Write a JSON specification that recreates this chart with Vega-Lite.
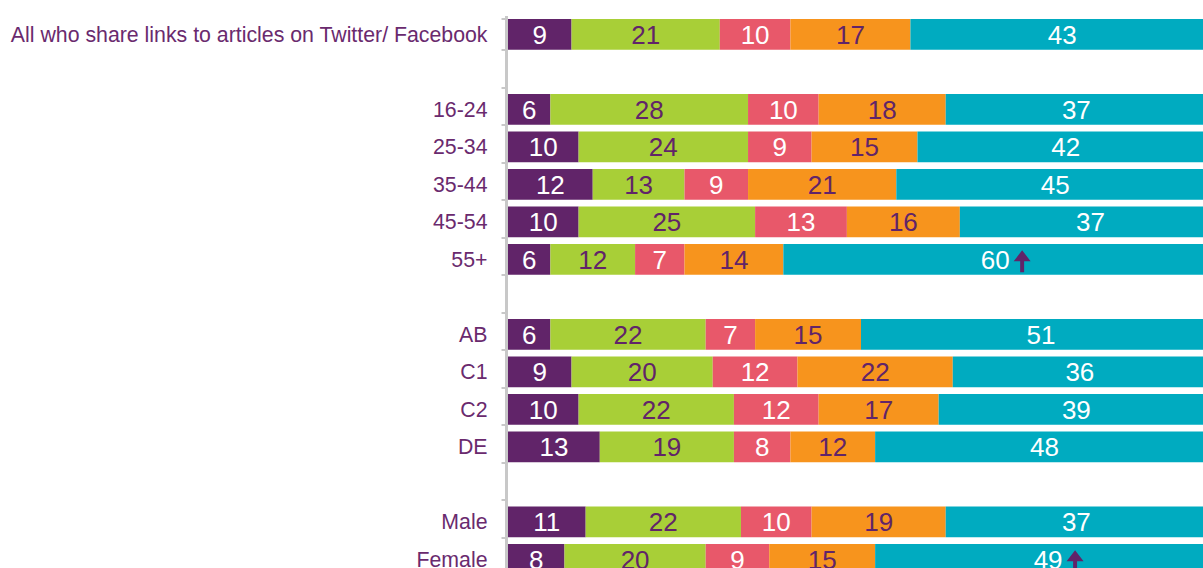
{
  "$schema": "https://vega.github.io/schema/vega-lite/v6.json",
  "width": 706,
  "height": 562.5,
  "autosize": {"type": "none"},
  "padding": {"left": 508, "top": 15.5, "right": 0, "bottom": 0},
  "config": {"view": {"stroke": null}, "font": "Liberation Sans"},
  "data": {
    "values": [
      {"group": "All who share links to articles on Twitter/ Facebook", "s1": 9, "s2": 21, "s3": 10, "s4": 17, "s5": 43, "up": false},
      {"group": "16-24", "s1": 6, "s2": 28, "s3": 10, "s4": 18, "s5": 37, "up": false},
      {"group": "25-34", "s1": 10, "s2": 24, "s3": 9, "s4": 15, "s5": 42, "up": false},
      {"group": "35-44", "s1": 12, "s2": 13, "s3": 9, "s4": 21, "s5": 45, "up": false},
      {"group": "45-54", "s1": 10, "s2": 25, "s3": 13, "s4": 16, "s5": 37, "up": false},
      {"group": "55+", "s1": 6, "s2": 12, "s3": 7, "s4": 14, "s5": 60, "up": true},
      {"group": "AB", "s1": 6, "s2": 22, "s3": 7, "s4": 15, "s5": 51, "up": false},
      {"group": "C1", "s1": 9, "s2": 20, "s3": 12, "s4": 22, "s5": 36, "up": false},
      {"group": "C2", "s1": 10, "s2": 22, "s3": 12, "s4": 17, "s5": 39, "up": false},
      {"group": "DE", "s1": 13, "s2": 19, "s3": 8, "s4": 12, "s5": 48, "up": false},
      {"group": "Male", "s1": 11, "s2": 22, "s3": 10, "s4": 19, "s5": 37, "up": false},
      {"group": "Female", "s1": 8, "s2": 20, "s3": 9, "s4": 15, "s5": 49, "up": true}
    ]
  },
  "transform": [
    {"fold": ["s1", "s2", "s3", "s4", "s5"], "as": ["seg", "value"]},
    {"stack": "value", "groupby": ["group"], "sort": [{"field": "seg", "order": "ascending"}], "as": ["v0", "v1"]},
    {"calculate": "(datum.v0 + datum.v1) / 2", "as": "mid"}
  ],
  "encoding": {
    "y": {
      "field": "group",
      "type": "nominal",
      "scale": {
        "domain": ["All who share links to articles on Twitter/ Facebook", " ", "16-24", "25-34", "35-44", "45-54", "55+", "  ", "AB", "C1", "C2", "DE", "   ", "Male", "Female"],
        "paddingInner": 0.18,
        "paddingOuter": 0.09
      },
      "axis": {
        "title": null,
        "domainColor": "#c8c8c8",
        "domainWidth": 3,
        "tickColor": "#c8c8c8",
        "tickWidth": 2,
        "tickSize": 5,
        "tickBand": "extent",
        "offset": 2,
        "labelFontSize": 21.3,
        "labelColor": "#6a2a6e",
        "labelPadding": 14,
        "labelOffset": 1,
        "labelFont": "Liberation Sans",
        "labelLimit": 700
      }
    }
  },
  "layer": [
    {
      "mark": {"type": "bar"},
      "encoding": {
        "x": {"field": "v0", "type": "quantitative", "scale": {"domain": [0, 100], "nice": false}, "axis": null},
        "x2": {"field": "v1"},
        "color": {
          "field": "seg",
          "type": "nominal",
          "scale": {"domain": ["s1", "s2", "s3", "s4", "s5"], "range": ["#612469", "#a8cf37", "#e8586a", "#f7941d", "#00abc0"]},
          "legend": null
        }
      }
    },
    {
      "mark": {"type": "text", "fontSize": 26, "baseline": "middle", "dy": 1.5, "font": "Liberation Sans"},
      "encoding": {
        "x": {"field": "mid", "type": "quantitative"},
        "text": {"field": "value", "type": "quantitative"},
        "color": {
          "condition": {"test": "datum.seg == 's2' || datum.seg == 's4'", "value": "#612469"},
          "value": "#ffffff"
        }
      }
    },
    {
      "transform": [{"filter": "datum.up && datum.seg == 's5'"}],
      "mark": {
        "type": "point",
        "shape": "M0,-1L0.77,0L0.18,0L0.18,1L-0.18,1L-0.18,0L-0.77,0Z",
        "filled": true,
        "size": 484,
        "color": "#612469",
        "opacity": 1,
        "xOffset": 27,
        "yOffset": 2
      },
      "encoding": {
        "x": {"field": "mid", "type": "quantitative"}
      }
    }
  ]
}
